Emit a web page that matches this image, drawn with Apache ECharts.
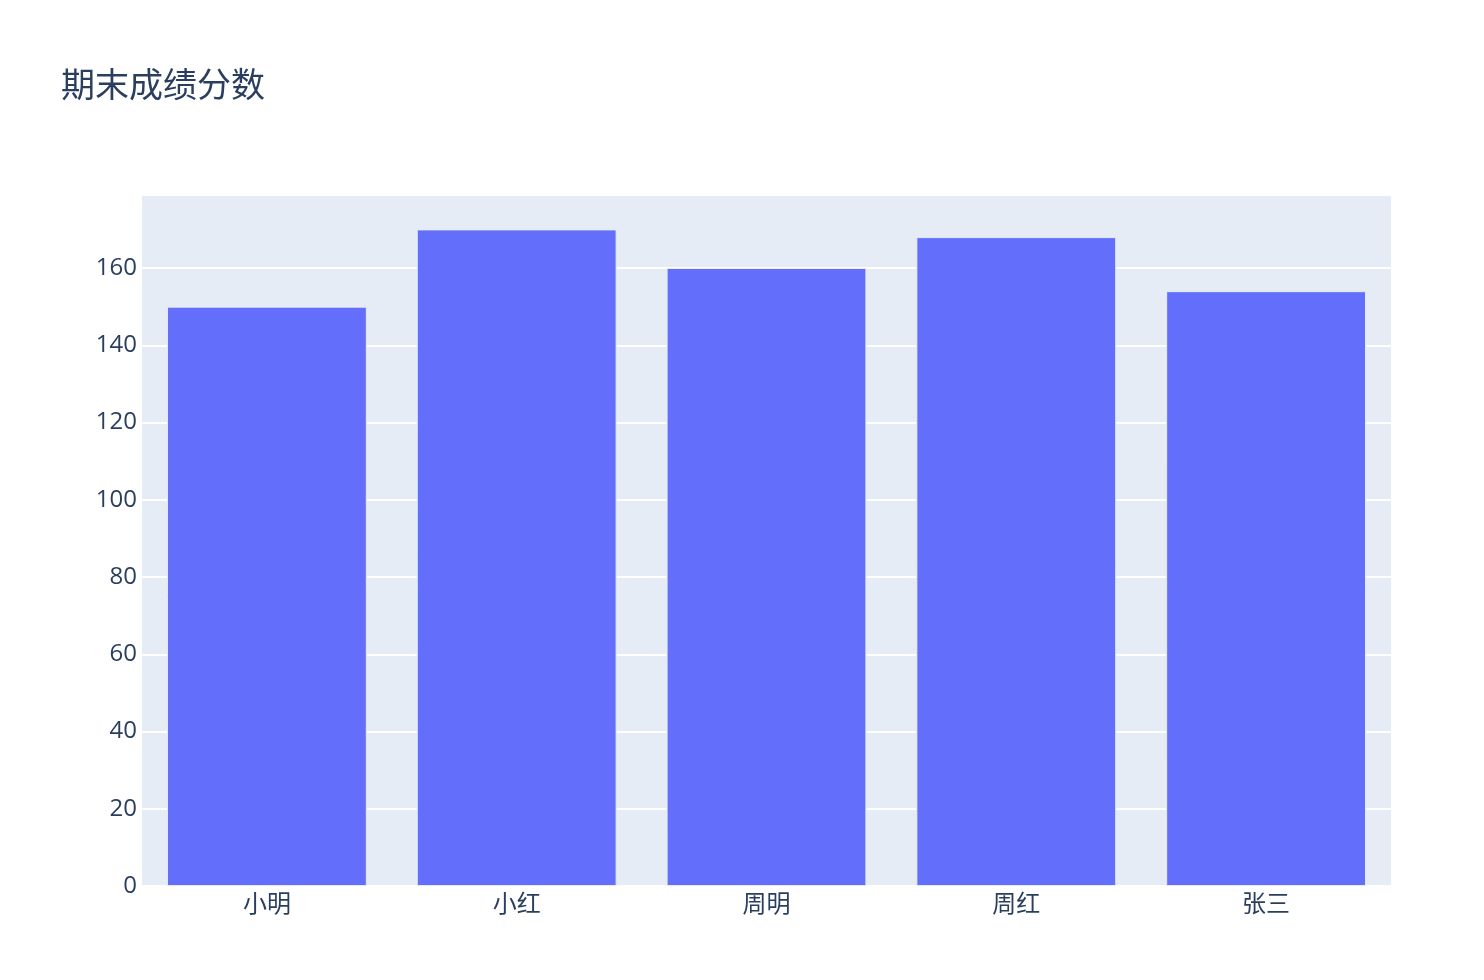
<!DOCTYPE html>
<html>
<head>
<meta charset="utf-8">
<script src="https://cdn.jsdelivr.net/npm/echarts@6/dist/echarts.min.js"></script>
<style>html,body{margin:0;padding:0;background:#fff}#c{width:1484px;height:980px}</style>
</head>
<body>
<div id="c"></div>
<script>
const categories = ['小明', '小红', '周明', '周红', '张三'];
const scores = [150, 170, 160, 168, 154];
const titleText = '期末成绩分数';
const yMax = 178.9;
const yInterval = 20;

const font = '"Open Sans", "Noto Sans CJK SC", sans-serif';
const chart = echarts.init(document.getElementById('c'));
chart.setOption({
  animation: false,
  backgroundColor: '#fff',
  title: {
    text: titleText,
    left: 56, top: 65,
    textStyle: { fontFamily: font, fontSize: 34, fontWeight: 'normal', color: '#2a3f5f' }
  },
  grid: {
    left: 142, right: 93, top: 195, bottom: 94,
    show: true, backgroundColor: '#e5ecf6', borderWidth: 0
  },
  xAxis: {
    type: 'category',
    data: categories,
    axisLine: { show: false },
    axisTick: { show: false },
    axisLabel: { fontFamily: font, fontSize: 24, color: '#2a3f5f', margin: 7 },
    splitLine: { show: false }
  },
  yAxis: {
    type: 'value',
    min: 0, max: yMax, interval: yInterval,
    axisLine: { show: false },
    axisTick: { show: false },
    axisLabel: { fontFamily: font, fontSize: 24, color: '#2a3f5f', margin: 5, showMaxLabel: false },
    splitLine: { show: true, lineStyle: { color: '#ffffff', width: 2 } }
  },
  series: [{
    type: 'bar',
    data: scores,
    barCategoryGap: '20%',
    itemStyle: { color: '#636efa', borderColor: '#e5ecf6', borderWidth: 1 }
  }]
});
</script>
</body>
</html>
